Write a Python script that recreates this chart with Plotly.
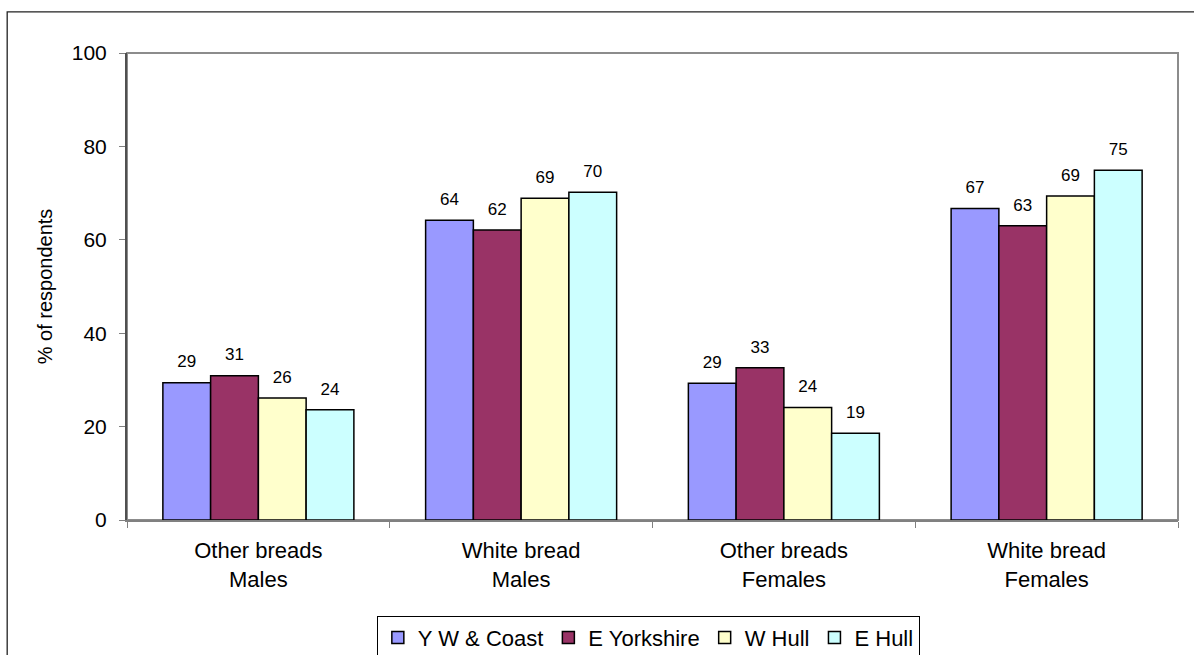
import plotly.graph_objects as go

# categories and series values (% of respondents)
categories = ["Other breads<br>Males", "White bread<br>Males",
              "Other breads<br>Females", "White bread<br>Females"]
series_names = ["Y W & Coast", "E Yorkshire", "W Hull", "E Hull"]
yw_coast = [29.4, 64.2, 29.3, 66.7]
e_yorkshire = [30.9, 62.1, 32.6, 63.0]
w_hull = [26.1, 68.9, 24.1, 69.4]
e_hull = [23.6, 70.2, 18.6, 74.9]
y_ticks = [0, 20, 40, 60, 80, 100]

colors = ["#9999FF", "#993366", "#FFFFCC", "#CCFFFF"]
all_values = [yw_coast, e_yorkshire, w_hull, e_hull]

fig = go.Figure()
for name, vals, col in zip(series_names, all_values, colors):
    fig.add_trace(go.Bar(
        x=categories,
        y=vals,
        name=name,
        marker=dict(color=col, line=dict(color="black", width=1.5)),
        cliponaxis=False,
    ))

# value labels: invisible markers grouped like the bars, text sits above them
for name, vals in zip(series_names, all_values):
    fig.add_trace(go.Scatter(
        x=categories,
        y=vals,
        mode="markers+text",
        marker=dict(size=16, opacity=0),
        text=[f"{v:.0f}" for v in vals],
        textposition="top center",
        textfont=dict(size=17, color="black"),
        showlegend=False,
        hoverinfo="skip",
        cliponaxis=False,
    ))

# outer chart border + plot area border (Excel style)
fig.add_shape(type="rect", xref="paper", yref="paper",
              x0=-0.114, x1=1.1, y0=-0.3, y1=1.088,
              line=dict(color="#222222", width=1.3), layer="below")
fig.add_shape(type="rect", xref="paper", yref="paper",
              x0=0, x1=1, y0=0, y1=1,
              line=dict(color="#8c8c8c", width=2), layer="below")

fig.update_layout(
    barmode="group",
    bargap=0.273,
    bargroupgap=0,
    scattermode="group",
    scattergap=0.273,
    width=1194,
    height=655,
    margin=dict(l=127, r=16, t=53, b=135),
    paper_bgcolor="white",
    plot_bgcolor="white",
    font=dict(family="Liberation Sans, Arial", size=21, color="black"),
    showlegend=True,
    # legend placed against the container so it doesn't push the bottom margin
    legend=dict(
        orientation="h",
        xref="container", yref="container",
        x=0.543, xanchor="center",
        y=0.06, yanchor="top",
        bordercolor="black", borderwidth=1,
        font=dict(size=22),
        itemwidth=30,
        tracegroupgap=0,
    ),
    xaxis=dict(
        automargin=False,
        showline=True, linecolor="#808080", linewidth=2,
        ticks="outside", tickson="boundaries", ticklen=6, tickcolor="#808080",
        ticklabelstandoff=10,
        showgrid=False, tickfont=dict(size=22),
    ),
    yaxis=dict(
        automargin=False,
        range=[0, 100],
        tickvals=y_ticks,
        showline=True, linecolor="#505050", linewidth=2,
        ticks="outside", ticklen=6, tickcolor="#808080",
        ticklabelstandoff=8,
        showgrid=False, zeroline=False,
        tickfont=dict(size=21),
        title=dict(text="% of respondents", font=dict(size=20), standoff=14),
    ),
)

# page has a default 8px body margin; drop it so the figure fills the window
fig.write_html(
    "out.html",
    config={"responsive": False, "displayModeBar": False},
    post_script="document.body.style.margin='0px';document.body.style.overflow='hidden';",
)
